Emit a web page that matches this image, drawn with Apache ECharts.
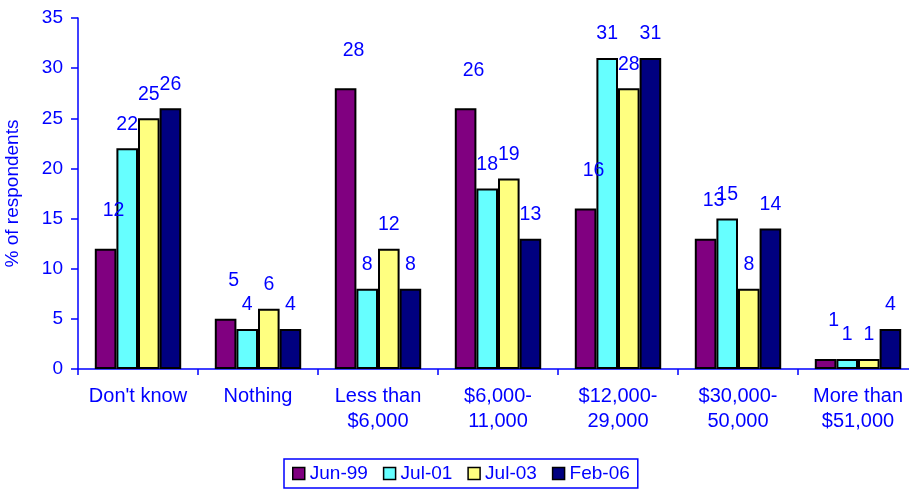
<!DOCTYPE html>
<html>
<head>
<meta charset="utf-8">
<script src="https://cdn.jsdelivr.net/npm/echarts@6/dist/echarts.min.js"></script>
<style>
html,body{margin:0;padding:0;background:#fff;}
#c{width:909px;height:491px;}
</style>
</head>
<body>
<div id="c"></div>
<script>
const categories = ["Don't know", "Nothing", "Less than\n$6,000", "$6,000-\n11,000", "$12,000-\n29,000", "$30,000-\n50,000", "More than\n$51,000"];
const seriesNames = ["Jun-99", "Jul-01", "Jul-03", "Feb-06"];
const jun99 = [12, 5, 28, 26, 16, 13, 1];
const jul01 = [22, 4, 8, 18, 31, 15, 1];
const jul03 = [25, 6, 12, 19, 28, 8, 1];
const feb06 = [26, 4, 8, 13, 31, 14, 4];
const yTicks = [0, 5, 10, 15, 20, 25, 30, 35];

const colors = ["#800080", "#66ffff", "#ffff80", "#000080"];
const FONT = "'Liberation Sans', Arial, sans-serif";
const BLUE = "#0000ff";

const values = [jun99, jul01, jul03, feb06];
const labelStyles = [
  {distance: 28, offset: [8, 0]},
  {distance: 14, offset: [0, 0]},
  {distance: 14, offset: [0, 0]},
  {distance: 14, offset: [0, 0]}
];

const chart = echarts.init(document.getElementById('c'), null, {renderer: 'canvas'});
chart.setOption({
  animation: false,
  backgroundColor: '#fff',
  grid: {left: 78, top: 18, width: 840, height: 351, containLabel: false, outerBoundsMode: 'none'},
  legend: {
    data: seriesNames,
    left: 284, top: 459,
    padding: [5, 8, 5, 8],
    itemWidth: 12, itemHeight: 12, itemGap: 15,
    borderColor: BLUE, borderWidth: 1.5,
    icon: 'rect',
    itemStyle: {borderColor: '#000', borderWidth: 1.5},
    textStyle: {color: BLUE, fontFamily: FONT, fontSize: 19}
  },
  xAxis: {
    type: 'category',
    data: categories,
    axisLine: {lineStyle: {color: BLUE, width: 1.5}},
    axisTick: {show: true, length: 6, lineStyle: {color: BLUE, width: 1.5}},
    axisLabel: {color: BLUE, fontFamily: FONT, fontSize: 20, lineHeight: 25, margin: 15, interval: 0}
  },
  yAxis: {
    type: 'value',
    min: yTicks[0], max: yTicks[yTicks.length - 1], interval: yTicks[1] - yTicks[0],
    name: '% of respondents',
    nameLocation: 'middle',
    nameGap: 56,
    nameRotate: 90,
    nameTextStyle: {color: BLUE, fontFamily: FONT, fontSize: 19},
    axisLine: {show: true, lineStyle: {color: BLUE, width: 1.5}},
    axisTick: {show: true, length: 7, lineStyle: {color: BLUE, width: 1.5}},
    axisLabel: {color: BLUE, fontFamily: FONT, fontSize: 19, margin: 15},
    splitLine: {show: false}
  },
  series: seriesNames.map((name, i) => ({
    name: name,
    type: 'bar',
    data: values[i],
    barGap: '0%',
    barCategoryGap: '28%',
    itemStyle: {color: colors[i], borderColor: '#000', borderWidth: 2},
    label: {
      show: true,
      position: 'top',
      distance: labelStyles[i].distance,
      offset: labelStyles[i].offset,
      color: BLUE,
      fontFamily: FONT,
      fontSize: 19.5
    }
  }))
});
</script>
</body>
</html>
